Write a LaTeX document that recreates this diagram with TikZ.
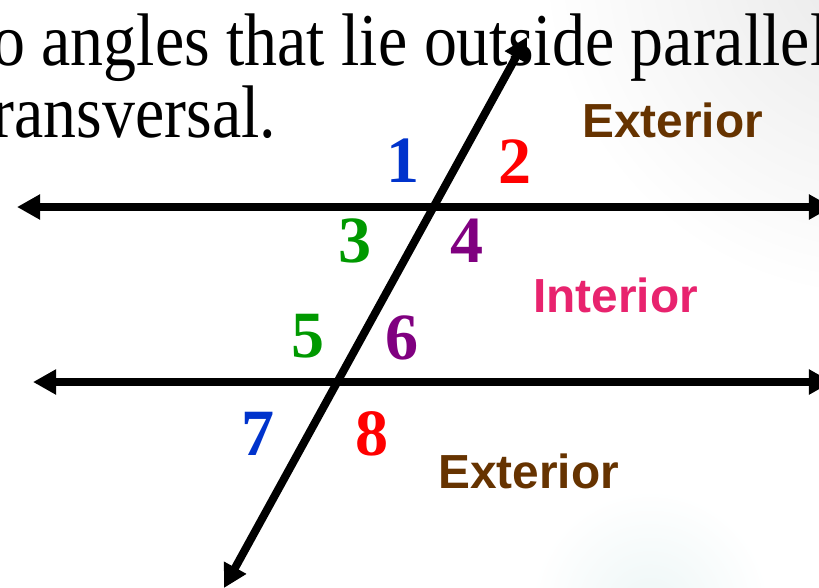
\documentclass[tikz,border=0pt]{standalone}
\usepackage{fontspec}
\setmainfont{Liberation Serif}
\newfontfamily\regionfont{Liberation Sans}
\usepackage{tikz}
\usetikzlibrary{arrows.meta}
\definecolor{angleblue}{HTML}{0033CC}
\definecolor{anglered}{HTML}{FF0000}
\definecolor{anglegreen}{HTML}{009900}
\definecolor{anglepurple}{HTML}{800080}
\definecolor{extbrown}{HTML}{663300}
\definecolor{intpink}{HTML}{E8236E}

\begin{document}
\begin{tikzpicture}[
  x=0.025cm, y=-0.025cm,
  rayline/.style={
    line width=0.2cm,
    {Triangle[length=0.58cm,width=0.6cm]}-{Triangle[length=0.58cm,width=0.6cm]},
  },
  num/.style={
    font=\fontsize{47}{47}\selectfont\bfseries, anchor=base, inner sep=0pt,
  },
  region/.style={
    font=\fontsize{34}{34}\selectfont\regionfont\bfseries, anchor=base west, inner sep=0pt,
  },
  caption/.style={
    font=\fontsize{53}{53}\selectfont, anchor=base west, inner sep=0pt,
  },
]

\useasboundingbox (0,0) rectangle (819,587);
\clip (0,0) rectangle (819,587);

% Background
\fill[white] (0,0) rectangle (819,587);
\shade[inner color=black!9, outer color=white] (880,-40) circle (340);
\shade[inner color=teal!7, outer color=white] (650,610) circle (120);

% Caption text (cut off by the frame)
\node[caption] (line1) at (-74,65) {\scalebox{0.884}[1]{two angles that lie outside parallel lines}};
\node[caption] (line2) at (-26,137) {\scalebox{0.884}[1]{transversal.}};

% Parallel lines and transversal
\coordinate (topW) at (17,207);
\coordinate (topE) at (832,207);
\coordinate (botW) at (33,382);
\coordinate (botE) at (832,382);
\coordinate (transN) at (527,37);
\coordinate (transS) at (224,588);

\draw[rayline] (topW) -- (topE);
\draw[rayline] (botW) -- (botE);
\draw[rayline] (transS) -- (transN);

% Angle numbers
\node[num, text=angleblue]   (a1) at (403,182) {1};
\node[num, text=anglered]    (a2) at (515,183) {2};
\node[num, text=anglegreen]  (a3) at (355,262) {3};
\node[num, text=anglepurple] (a4) at (467,262) {4};
\node[num, text=anglegreen]  (a5) at (308,357) {5};
\node[num, text=anglepurple] (a6) at (402,359) {6};
\node[num, text=angleblue]   (a7) at (258,455) {7};
\node[num, text=anglered]    (a8) at (372,455) {8};

% Regions
\node[region, text=extbrown] (extTop) at (582,137) {Exterior};
\node[region, text=intpink]  (interior) at (533,312) {Interior};
\node[region, text=extbrown] (extBot) at (438,488) {Exterior};

\end{tikzpicture}
\end{document}
